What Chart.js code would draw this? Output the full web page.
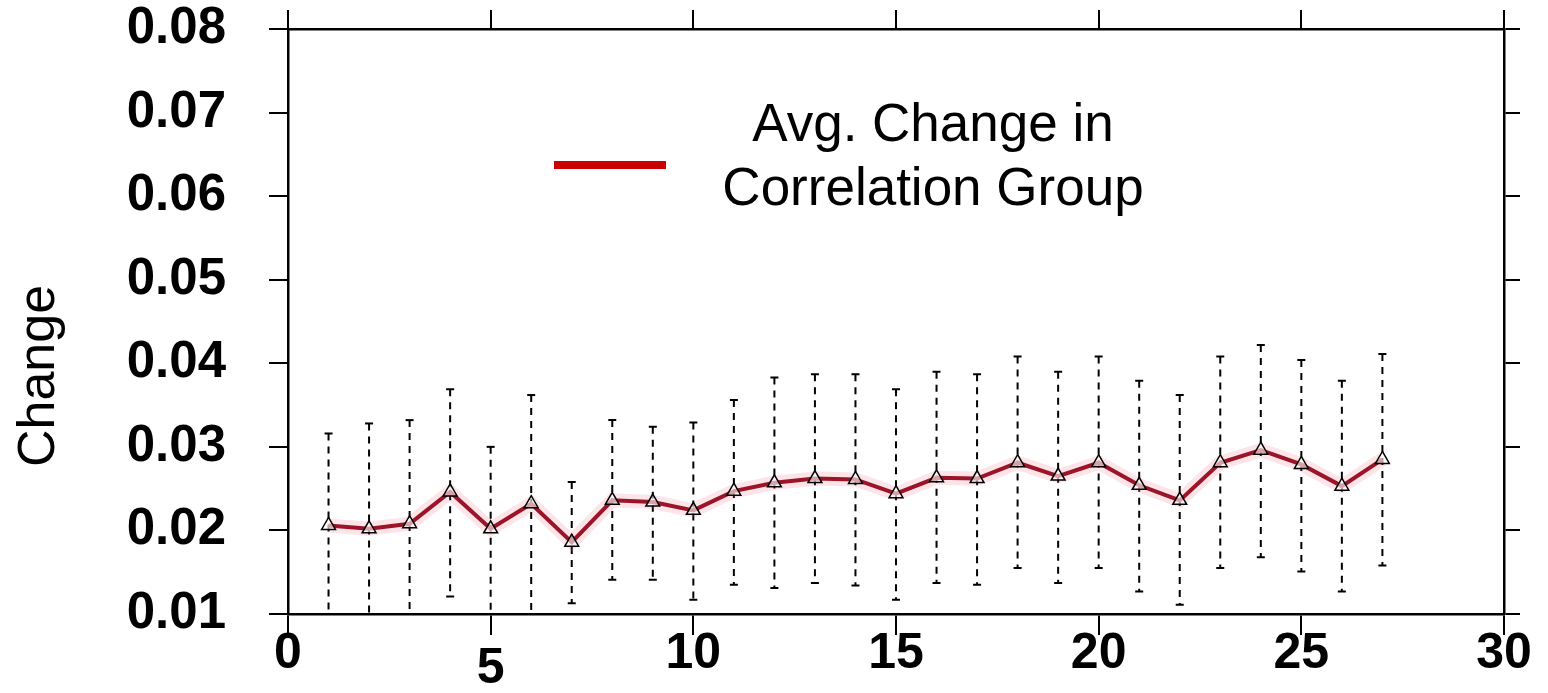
<!DOCTYPE html>
<html>
<head>
<meta charset="utf-8">
<script src="https://cdn.jsdelivr.net/npm/chart.js@4.4.1/dist/chart.umd.min.js"></script>
<style>
  html, body { margin: 0; padding: 0; background: #fff; }
  canvas { display: block; }
</style>
</head>
<body>
<canvas id="changeChart" width="1548" height="693"></canvas>
<script>
// Group index along x
const groups = [1, 2, 3, 4, 5, 6, 7, 8, 9, 10, 11, 12, 13, 14, 15, 16, 17, 18, 19, 20, 21, 22, 23, 24, 25, 26, 27];

// Average change per group
const avgChange = [0.0206, 0.0202, 0.0208, 0.0246, 0.0202, 0.0232, 0.0186, 0.0236, 0.0234, 0.0224,
                   0.0247, 0.0257, 0.0262, 0.0261, 0.0244, 0.0263, 0.0262, 0.0281, 0.0265, 0.0281,
                   0.0254, 0.0236, 0.0281, 0.0296, 0.0279, 0.0253, 0.0285];

// Error bar ends
const errHigh = [0.0316, 0.0328, 0.0332, 0.0369, 0.0300, 0.0362, 0.0258, 0.0332, 0.0324, 0.0329,
                 0.0356, 0.0383, 0.0387, 0.0387, 0.0369, 0.0390, 0.0387, 0.0408, 0.0390, 0.0408,
                 0.0379, 0.0362, 0.0408, 0.0422, 0.0404, 0.0379, 0.0411];
const errLow = [0.0096, 0.0076, 0.0084, 0.0121, 0.0098, 0.0098, 0.0113, 0.0141, 0.0141, 0.0117,
                0.0135, 0.0131, 0.0137, 0.0134, 0.0117, 0.0137, 0.0135, 0.0155, 0.0137, 0.0155,
                0.0127, 0.0111, 0.0155, 0.0168, 0.0151, 0.0127, 0.0158];

const xTicks = [0, 5, 10, 15, 20, 25, 30];
const yTicks = [0.01, 0.02, 0.03, 0.04, 0.05, 0.06, 0.07, 0.08];

const seriesLabel = ['Avg. Change in', 'Correlation Group'];
const axisTitle = 'Change';

const FONT = "'Liberation Sans', Arial, Helvetica, sans-serif";
const lineColor = '#9c1428';
const swatchColor = '#cc0000';

const points = groups.map((g, i) => ({ x: g, y: avgChange[i] }));

// dashed vertical error bars with small caps
const errorBars = {
    id: 'errorBars',
    beforeDatasetsDraw(chart) {
        const ctx = chart.ctx;
        const xs = chart.scales.x;
        const ys = chart.scales.y;
        const area = chart.chartArea;
        ctx.save();
        ctx.beginPath();
        ctx.rect(area.left, area.top, area.right - area.left, area.bottom - area.top);
        ctx.clip();
        ctx.strokeStyle = '#000';
        ctx.lineWidth = 2;
        groups.forEach((g, i) => {
            const px = xs.getPixelForValue(g);
            const top = ys.getPixelForValue(errHigh[i]);
            const bot = ys.getPixelForValue(errLow[i]);
            ctx.setLineDash([7, 6]);
            ctx.beginPath();
            ctx.moveTo(px, top);
            ctx.lineTo(px, bot);
            ctx.stroke();
            ctx.setLineDash([]);
            ctx.beginPath();
            ctx.moveTo(px - 4, top);
            ctx.lineTo(px + 4, top);
            if (errLow[i] > ys.min) {
                ctx.moveTo(px - 4, bot);
                ctx.lineTo(px + 4, bot);
            }
            ctx.stroke();
        });
        ctx.restore();
    }
};

// legend block and rotated y title
const annotations = {
    id: 'annotations',
    afterDraw(chart) {
        const ctx = chart.ctx;
        ctx.save();
        ctx.fillStyle = swatchColor;
        ctx.fillRect(554, 161, 112, 8);

        ctx.fillStyle = '#000';
        ctx.font = '53px ' + FONT;
        ctx.textAlign = 'center';
        ctx.textBaseline = 'alphabetic';
        ctx.fillText(seriesLabel[0], 933, 141);
        ctx.fillText(seriesLabel[1], 933, 205);

        ctx.translate(54, 376);
        ctx.rotate(-Math.PI / 2);
        ctx.font = '52px ' + FONT;
        ctx.fillText(axisTitle, 0, 0);
        ctx.restore();
    }
};

const tickGrid = (len) => ({
    drawOnChartArea: false,
    drawTicks: true,
    tickLength: len,
    color: '#000',
    lineWidth: 2
});
const frame = { display: true, color: '#000', width: 2.5 };

// keep the plot box fixed: no extra room for overhanging labels
const noOverhang = (s) => {
    s.paddingTop = 0;
    s.paddingBottom = 0;
    s.paddingLeft = 0;
    s.paddingRight = 0;
};

new Chart(document.getElementById('changeChart'), {
    type: 'line',
    data: {
        datasets: [{
            label: seriesLabel.join(' '),
            data: points,
            borderColor: lineColor,
            borderWidth: 4,
            tension: 0,
            pointStyle: 'triangle',
            pointRadius: 8,
            pointBorderWidth: 1.5,
            pointBorderColor: '#000',
            pointBackgroundColor: 'rgba(255,255,255,0.6)',
            order: 1
        }, {
            label: 'halo',
            data: points,
            borderColor: 'rgba(235, 90, 110, 0.16)',
            borderWidth: 14,
            tension: 0,
            pointRadius: 0,
            order: 2
        }]
    },
    options: {
        responsive: false,
        animation: false,
        layout: { padding: { left: 0, top: 29, right: 44, bottom: 0 } },
        plugins: {
            legend: { display: false },
            tooltip: { enabled: false }
        },
        scales: {
            x: {
                type: 'linear',
                position: 'bottom',
                min: xTicks[0],
                max: xTicks[xTicks.length - 1],
                afterBuildTicks: (s) => { s.ticks = xTicks.map(v => ({ value: v })); },
                afterFit: (s) => { s.height = 79; noOverhang(s); },
                grid: tickGrid(21),
                border: frame,
                ticks: {
                    color: '#000',
                    padding: -6,
                    maxRotation: 0,
                    font: (c) => ({
                        family: FONT, size: 50, weight: 'bold',
                        lineHeight: c.tick && c.tick.value === 5 ? 1.6 : 1
                    }),
                    callback: (v) => String(v)
                }
            },
            x2: {
                type: 'linear',
                position: 'top',
                min: xTicks[0],
                max: xTicks[xTicks.length - 1],
                afterBuildTicks: (s) => { s.ticks = xTicks.map(v => ({ value: v })); },
                afterFit: (s) => { s.height = 0; noOverhang(s); },
                grid: tickGrid(19),
                border: frame,
                ticks: { display: false }
            },
            y: {
                type: 'linear',
                position: 'left',
                min: yTicks[0],
                max: yTicks[yTicks.length - 1],
                afterBuildTicks: (s) => { s.ticks = yTicks.map(v => ({ value: v })); },
                afterFit: (s) => { s.width = 288; noOverhang(s); },
                grid: tickGrid(19),
                border: frame,
                ticks: {
                    color: '#000',
                    padding: 43,
                    font: { family: FONT, size: 51, weight: 'bold' },
                    callback: (v) => Number(v).toFixed(2)
                }
            },
            y2: {
                type: 'linear',
                position: 'right',
                min: yTicks[0],
                max: yTicks[yTicks.length - 1],
                afterBuildTicks: (s) => { s.ticks = yTicks.map(v => ({ value: v })); },
                afterFit: (s) => { s.width = 0; noOverhang(s); },
                grid: tickGrid(16),
                border: frame,
                ticks: { display: false }
            }
        }
    },
    plugins: [errorBars, annotations]
});
</script>
</body>
</html>
